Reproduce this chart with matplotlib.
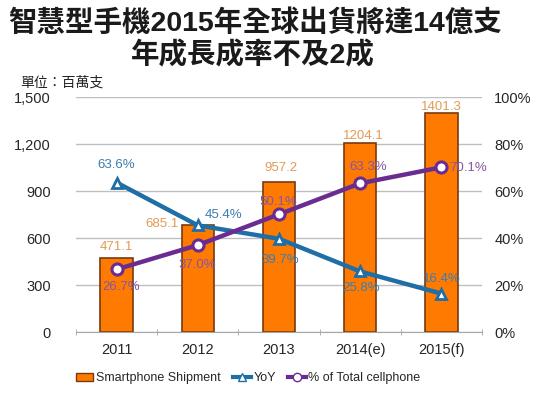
import matplotlib
matplotlib.use("Agg")
import matplotlib.pyplot as plt
from matplotlib.lines import Line2D
from matplotlib.patches import Patch
from matplotlib.ticker import FuncFormatter

plt.rcParams['font.family'] = ['Liberation Sans', 'Noto Sans CJK TC', 'DejaVu Sans']

# data
years = ['2011', '2012', '2013', '2014(e)', '2015(f)']
shipment = [471.1, 685.1, 957.2, 1204.1, 1401.3]
yoy = [63.6, 45.4, 39.7, 25.8, 16.4]
share = [26.7, 37.0, 50.1, 63.3, 70.1]

# label offsets in pixels (dx, dy)
ship_off = [(0, 11), (-36, 1), (2, 14), (3, 7), (0, 6)]
yoy_off = [(0, 18), (26, 10), (1, -21), (1, -17), (1, 15)]
share_off = [(4, -18), (-1, -20), (-1, 12), (8, 16), (27, -1)]

orange = '#FF7A00'
blue = '#1F6EA6'
purple = '#6A2C91'

fig = plt.figure(figsize=(5.36, 3.93), dpi=100)
ax = fig.add_axes([0.142, 0.155, 0.757, 0.598])
x = list(range(len(years)))

ax.bar(x, shipment, width=0.4, color=orange, edgecolor='#7A3A10', linewidth=1.2, zorder=2)
ax.set_xlim(-0.5, 4.5)
ax.set_ylim(0, 1500)
ax.set_yticks(range(0, 1501, 300))
ax.yaxis.set_major_formatter(FuncFormatter(lambda v, p: f'{int(v):,}'))
ax.grid(axis='y', color='#BFBFBF', linewidth=1.0, zorder=0)
ax.set_axisbelow(True)
for s in ['top', 'right', 'left']:
    ax.spines[s].set_visible(False)
ax.spines['bottom'].set_color('#A6A6A6')
ax.set_xticks(x)
ax.set_xticklabels(years, fontsize=10.5, color='#262626')
ax.set_xticks([i - 0.5 for i in range(len(years) + 1)], minor=True)
ax.tick_params(axis='x', which='major', length=0, pad=8)
ax.tick_params(axis='x', which='minor', length=4, direction='inout', color='#A6A6A6')
ax.tick_params(axis='y', length=0, pad=18, labelsize=10.5, labelcolor='#262626')

for i, v in enumerate(shipment):
    ax.annotate(f'{v:.1f}', (x[i], v), xytext=ship_off[i], textcoords='offset pixels',
                ha='center', va='center', fontsize=9.5, color='#E39A55', zorder=5)

ax2 = ax.twinx()
ax2.set_ylim(0, 100)
ax2.set_yticks(range(0, 101, 20))
ax2.yaxis.set_major_formatter(FuncFormatter(lambda v, p: f'{int(v)}%'))
ax2.tick_params(axis='y', length=0, pad=9, labelsize=10.5, labelcolor='#262626')
for s in ['top', 'right', 'left', 'bottom']:
    ax2.spines[s].set_visible(False)

ax2.plot(x, yoy, color=blue, linewidth=3.2, marker='^', markersize=7,
         markerfacecolor='white', markeredgecolor=blue, markeredgewidth=2, zorder=3)
ax2.plot(x, share, color=purple, linewidth=3.2, marker='o', markersize=8,
         markerfacecolor='white', markeredgecolor=purple, markeredgewidth=2.2, zorder=3)

for i, v in enumerate(yoy):
    ax2.annotate(f'{v:.1f}%', (x[i], v), xytext=yoy_off[i], textcoords='offset pixels',
                 ha='center', va='center', fontsize=9.5, color='#3A7DB0', zorder=5)
for i, v in enumerate(share):
    ax2.annotate(f'{v:.1f}%', (x[i], v), xytext=share_off[i], textcoords='offset pixels',
                 ha='center', va='center', fontsize=9.5, color='#8456A8', zorder=5)

fig.text(0.476, 0.942, '智慧型手機2015年全球出貨將達14億支', ha='center', va='center',
         fontsize=20.5, fontweight='bold', color='#1A1A1A')
fig.text(0.472, 0.860, '年成長成率不及2成', ha='center', va='center',
         fontsize=20.5, fontweight='bold', color='#1A1A1A')
fig.text(0.037, 0.791, '單位：百萬支', ha='left', va='center', fontsize=10, color='#222222')

handles = [
    Patch(facecolor=orange, edgecolor='#7A3A10'),
    Line2D([], [], color=blue, linewidth=3, marker='^', markersize=6,
           markerfacecolor='white', markeredgecolor=blue),
    Line2D([], [], color=purple, linewidth=3, marker='o', markersize=6,
           markerfacecolor='white', markeredgecolor=purple),
]
fig.legend(handles, ['Smartphone Shipment', 'YoY', '% of Total cellphone'],
           loc='center', bbox_to_anchor=(0.463, 0.038), ncol=3, frameon=False,
           fontsize=9, handlelength=1.4, handletextpad=0.2, columnspacing=1.0,
           handleheight=0.6, labelcolor='#262626')

fig.savefig('out.png', dpi=100)
